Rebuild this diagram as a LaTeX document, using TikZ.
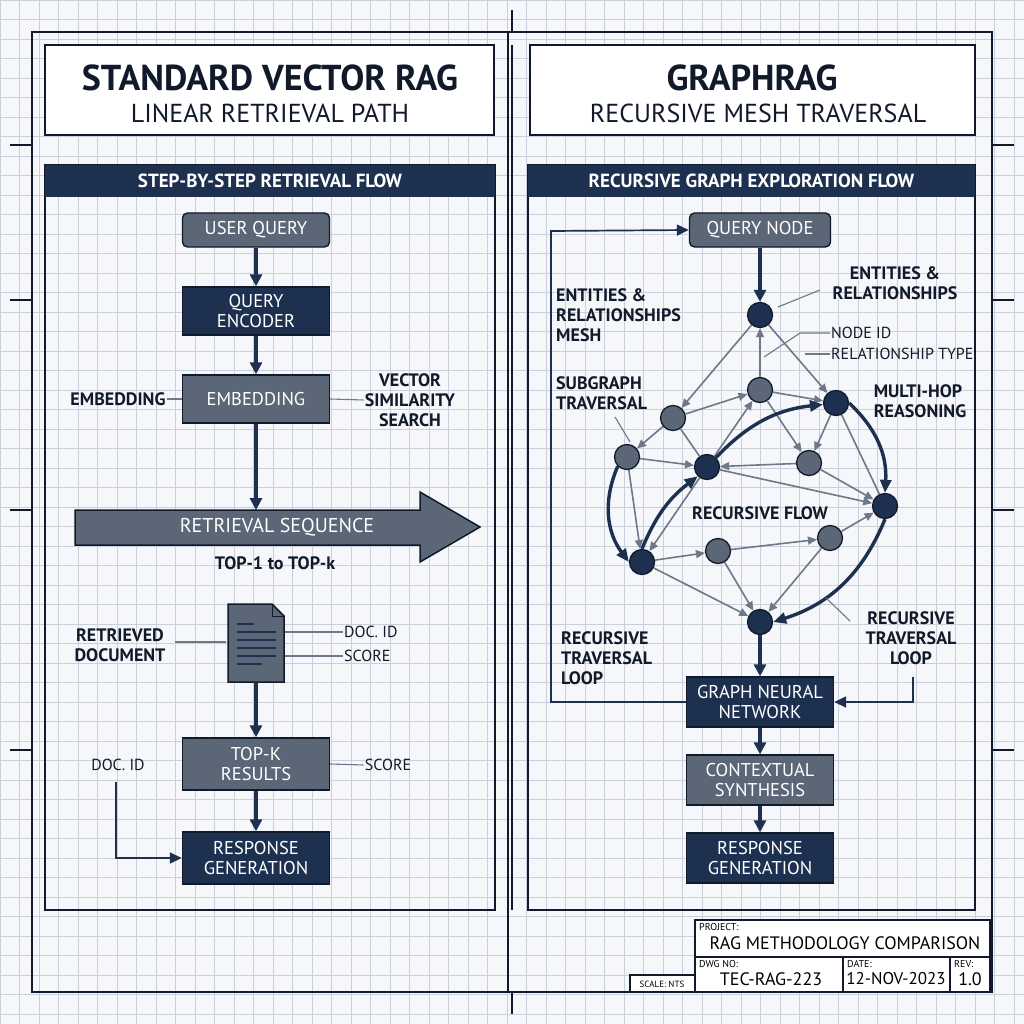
\documentclass[tikz,border=0pt]{standalone}
\usepackage{fontspec}
\setmainfont{PT Sans}
\usetikzlibrary{arrows.meta,shapes.geometric}
\definecolor{navy}{HTML}{1E3050}
\definecolor{slate}{HTML}{5B6676}
\definecolor{bg}{HTML}{F5F7FA}
\definecolor{gridc}{HTML}{C9D0DA}
\definecolor{edge}{HTML}{6E7887}
\definecolor{ink}{HTML}{111A2A}
\tikzset{
 box/.style={draw=ink,line width=1.4pt,minimum width=147pt,text=white,align=center,font=\fontsize{18.5}{20}\selectfont,inner sep=2pt},
 nbox/.style={box,fill=navy},
 gbox/.style={box,fill=slate},
 rbox/.style={box,fill=slate,rounded corners=5pt},
 lbl/.style={font=\bfseries\fontsize{18}{20}\selectfont,text=ink,align=left,inner sep=1pt},
 sl/.style={font=\fontsize{16}{18}\selectfont,text=ink,inner sep=1pt},
 hdr/.style={fill=navy,text=white,font=\bfseries\fontsize{19}{21}\selectfont,minimum width=450pt,minimum height=32pt},
 main/.style={-{Triangle[length=12pt,width=12pt]},line width=3.4pt,draw=navy},
 ed/.style={-{Triangle[length=9pt,width=8pt]},line width=1.6pt,draw=edge},
 thick/.style={-{Triangle[length=13pt,width=11pt]},line width=3.4pt,draw=navy},
 lead/.style={line width=1.1pt,draw=edge},
 dn/.style={circle,fill=navy,draw=ink,line width=1.3pt,minimum size=25pt,inner sep=0},
 gn/.style={circle,fill=slate,draw=ink,line width=1.3pt,minimum size=25pt,inner sep=0},
 cell/.style={draw=ink,line width=1.5pt,fill=white},
}
\begin{document}
\begin{tikzpicture}[x=1pt,y=-1pt]
\useasboundingbox (0,0) rectangle (1024,1024);
\fill[bg] (0,0) rectangle (1024,1024);
\foreach \i in {0,...,52}{\draw[gridc,line width=0.8pt] (\i*19.5,0)--(\i*19.5,1024) (0,\i*19.5)--(1024,\i*19.5);}
% frame
\draw[ink,line width=1.8pt] (32,32) rectangle (992,992);
\foreach \y in {145,300,510,750}{\draw[ink,line width=1.2pt] (10,\y)--(32,\y) (992,\y)--(1014,\y);}
\draw[ink,line width=1.2pt] (512,10)--(512,32) (512,992)--(512,1014);
\draw[ink,line width=1.2pt] (508,32)--(508,992);
\draw[ink,line width=2.6pt] (512,45)--(512,910);
% title boxes
\draw[cell] (45,45) rectangle (494,135);
\draw[cell] (530,45) rectangle (975,135);
\node[font=\bfseries\fontsize{36}{38}\selectfont,text=ink] (t1) at (270,78) {STANDARD VECTOR RAG};
\node[font=\fontsize{26}{28}\selectfont,text=ink] (t2) at (270,113) {LINEAR RETRIEVAL PATH};
\node[font=\bfseries\fontsize{36}{38}\selectfont,text=ink] (t3) at (752,78) {GRAPHRAG};
\node[font=\fontsize{26}{28}\selectfont,text=ink] (t4) at (758,113) {RECURSIVE MESH TRAVERSAL};
% panels
\draw[ink,line width=1.5pt] (45,165) rectangle (495,910);
\draw[ink,line width=1.5pt] (528,165) rectangle (975,910);
\node[hdr] (h1) at (270,181) {STEP-BY-STEP RETRIEVAL FLOW};
\node[hdr,minimum width=447pt] (h2) at (751.5,181) {RECURSIVE GRAPH EXPLORATION FLOW};
% ---- left flow
\node[rbox,minimum height=34pt] (uq) at (256,230) {USER QUERY};
\node[nbox,minimum height=48pt] (qe) at (256,311) {QUERY\\ENCODER};
\node[gbox,minimum height=48pt] (em) at (256,399) {EMBEDDING};
\node[lbl] (eml) at (118,399) {EMBEDDING};
\node[lbl,align=center] (vss) at (410,400) {VECTOR\\SIMILARITY\\SEARCH};
\draw[lead] (eml.east)--(em.west);
\draw[lead] (em.east)--(vss.west);
\draw[main] (uq)--(qe);
\draw[main] (qe)--(em);
\coordinate (ra) at (256,510);
\draw[main] (em)--(ra);
\draw[ink,line width=1.5pt,fill=slate] (75,510)--(420,510)--(420,492)--(480,527)--(420,562)--(420,545)--(75,545)--cycle;
\node[font=\fontsize{20}{22}\selectfont,text=white] (rs) at (277,527) {RETRIEVAL SEQUENCE};
\node[lbl] (tk) at (275,563) {TOP-1 to TOP-k};
% document icon
\draw[ink,line width=1.5pt,fill=slate] (228,604)--(272,604)--(284,616)--(284,682)--(228,682)--cycle;
\draw[ink,line width=1pt] (272,604)--(272,616)--(284,616);
\foreach \yy/\xe in {624/254,632/276,640/276,648/276,656/276,664/262}{\draw[navy,line width=1.7pt] (237,\yy)--(\xe,\yy);}
\coordinate (docb) at (256,682);
\node[lbl,align=center] (rd) at (120,645) {RETRIEVED\\DOCUMENT};
\draw[lead] (175,642)--(226,642);
\node[sl,anchor=west] (d1) at (343,632) {DOC. ID};
\node[sl,anchor=west] (s1) at (343,656) {SCORE};
\draw[lead] (285,632)--(d1.west);
\draw[lead] (285,656)--(s1.west);
\node[gbox,minimum height=52pt] (tr) at (256,764) {TOP-K\\RESULTS};
\node[nbox,minimum height=52pt] (rg) at (256,858) {RESPONSE\\GENERATION};
\draw[main] (docb)--(tr);
\draw[main] (tr)--(rg);
\node[sl] (s2) at (388,765) {SCORE};
\draw[lead] (tr.east)--(s2.west);
\node[sl] (d2) at (118,765) {DOC. ID};
\draw[line width=1.7pt,draw=navy,-{Triangle[length=12pt,width=11pt]}] (116,782)--(116,858)--(rg.west);
% ---- right graph
\node[rbox,minimum width=141pt,minimum height=34pt] (qn) at (760,230) {QUERY NODE};
\node[dn] (n1) at (760,315) {};
\node[gn] (n2) at (760,390) {};
\node[gn] (n3) at (673,418) {};
\node[dn] (n4) at (836,403) {};
\node[gn] (n5) at (627,457) {};
\node[dn] (n6) at (707,467) {};
\node[gn] (n7) at (809,463) {};
\node[dn] (n8) at (885,506) {};
\node[gn] (n9) at (830,538) {};
\node[dn] (n10) at (642,562) {};
\node[gn] (n11) at (718,551) {};
\node[dn] (n12) at (760,622) {};
\draw[main] (qn)--(n1);
\foreach \a/\b in {n1/n3,n2/n1,n1/n4,n3/n2,n2/n4,n3/n5,n6/n2,n2/n7,n4/n7,n5/n6,n7/n6,n7/n8,n6/n8,n5/n10,n6/n10,n10/n11,n11/n9,n9/n8,n10/n12,n11/n12,n9/n12}{\draw[ed] (\a)--(\b);}
\draw[edge,line width=1.6pt] (n3)--(n6);
\draw[edge,line width=1.6pt] (n4)--(n8);
\draw[thick] (n6) to[bend left=20] (n4);
\draw[thick] (n4.east) to[bend left=25] (n8.north);
\draw[thick] (n5.south west) to[bend right=30] (n10.west);
\draw[thick] (n10.north) to[bend left=15] (n6.south west);
\draw[thick] (n8.south) to[bend left=25] (n12.east);
% labels
\node[lbl,align=center] (er) at (895,283) {ENTITIES \&\\RELATIONSHIPS};
\draw[lead] (778,307)--(820,290);
\node[lbl,anchor=west] (erm) at (555,315) {ENTITIES \&\\RELATIONSHIPS\\MESH};
\node[sl,anchor=west] (nid) at (830,333) {NODE ID};
\node[sl,anchor=west] (rt) at (830,354) {RELATIONSHIP TYPE};
\draw[lead] (nid.west)--(800,333)--(764,357);
\draw[lead] (805,354)--(rt.west);
\node[lbl,anchor=west] (sg) at (555,393) {SUBGRAPH\\TRAVERSAL};
\draw[lead] (615,417)--(630,442);
\node[lbl,align=left] (mh) at (920,401) {MULTI-HOP\\REASONING};
\node[lbl] (rf) at (760,513) {RECURSIVE FLOW};
\node[lbl,anchor=west] (rl1) at (560,658) {RECURSIVE\\TRAVERSAL\\LOOP};
\node[lbl,align=center] (rl2) at (911,638) {RECURSIVE\\TRAVERSAL\\LOOP};
\draw[lead] (826,598)--(850,621);
\node[nbox,minimum height=50pt] (gnn) at (760,702) {GRAPH NEURAL\\NETWORK};
\node[gbox,minimum height=50pt] (cs) at (760,780) {CONTEXTUAL\\SYNTHESIS};
\node[nbox,minimum height=50pt] (rg2) at (760,858) {RESPONSE\\GENERATION};
\draw[main] (n12)--(gnn);
\draw[main] (gnn)--(cs);
\draw[main] (cs)--(rg2);
\draw[line width=1.7pt,draw=navy,-{Triangle[length=12pt,width=11pt]}] (gnn.west)--(551,702)--(551,231)--(qn.west);
\draw[line width=1.7pt,draw=navy,-{Triangle[length=12pt,width=11pt]}] (913,677)--(913,702)--(gnn.east);
% title block
\draw[cell] (695,920) rectangle (990,992);
\draw[ink,line width=1.5pt] (695,957)--(990,957) (843,957)--(843,992) (950,957)--(950,992);
\draw[cell] (630,975) rectangle (695,992);
\node[font=\fontsize{10}{11}\selectfont,anchor=north west,inner sep=2pt] (p1) at (697,921) {PROJECT:};
\node[font=\fontsize{18}{19}\selectfont] (p2) at (845,943) {RAG METHODOLOGY COMPARISON};
\node[font=\fontsize{10}{11}\selectfont,anchor=north west,inner sep=2pt] (p3) at (697,958) {DWG NO:};
\node[font=\fontsize{18}{19}\selectfont] (p4) at (771,979) {TEC-RAG-223};
\node[font=\fontsize{10}{11}\selectfont,anchor=north west,inner sep=2pt] (p5) at (845,958) {DATE:};
\node[font=\fontsize{17}{18}\selectfont] (p6) at (896,979) {12-NOV-2023};
\node[font=\fontsize{10}{11}\selectfont,anchor=north west,inner sep=2pt] (p7) at (952,958) {REV:};
\node[font=\fontsize{18}{19}\selectfont] (p8) at (970,979) {1.0};
\node[font=\fontsize{9}{10}\selectfont] (p9) at (662,984) {SCALE: NTS};
\end{tikzpicture}
\end{document}
